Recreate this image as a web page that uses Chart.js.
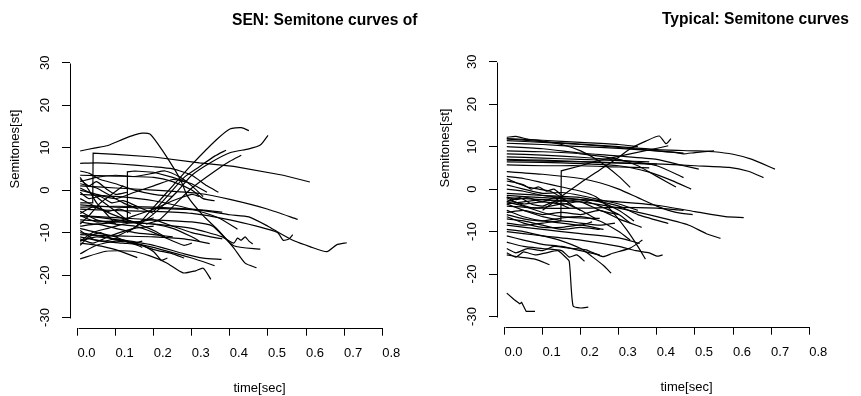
<!DOCTYPE html>
<html>
<head>
<meta charset="utf-8">
<script src="https://cdn.jsdelivr.net/npm/chart.js@4.4.1/dist/chart.umd.min.js"></script>
<style>
html, body { margin: 0; padding: 0; background: #fff; overflow: hidden; }
#wrap { position: relative; width: 861px; height: 396px; overflow: hidden; }
.panel { position: absolute; top: 0; height: 396px; overflow: hidden; }
</style>
</head>
<body>
<div id="wrap">
  <div class="panel" style="left:0;width:427px"><canvas id="senChart" width="460" height="396"></canvas></div>
  <div class="panel" style="left:427px;width:434px;top:-1px"><canvas id="typChart" width="460" height="396"></canvas></div>
</div>
<script>
// axis ticks
const xTicks = [0, 0.1, 0.2, 0.3, 0.4, 0.5, 0.6, 0.7, 0.8];
const yTicks = [-30, -20, -10, 0, 10, 20, 30];

const senTitle = 'SEN: Semitone curves of';
const typTitle = 'Typical: Semitone curves';
const xLabel = 'time[sec]';
const yLabel = 'Semitones[st]';

// [time (sec), semitones] per utterance
const senCurves = [
  [[0.007,9.2],[0.044,9.9],[0.08,10.5],[0.12,12],[0.15,13],[0.17,13.4],[0.19,13.2],[0.21,11],[0.24,7],[0.27,2.5],[0.29,-1.6],[0.33,-6],[0.37,-9.5],[0.41,-13.6],[0.44,-17.2],[0.47,-18.3]],
  [[0.007,-3],[0.04,-3],[0.041,8.7],[0.1,8.4],[0.2,7.8],[0.32,6.4],[0.41,5.6],[0.54,3.5],[0.61,1.9]],
  [[0.007,6.3],[0.05,6.4],[0.1,6.2],[0.2,5.5],[0.25,5],[0.3,3.5],[0.34,1],[0.37,-0.5]],
  [[0.1,-11],[0.153,-8.6],[0.2,-4],[0.25,1],[0.3,6],[0.364,11.8],[0.4,14.4],[0.43,14.7],[0.45,14]],
  [[0.13,-10],[0.18,-7],[0.22,-4],[0.26,-0.5],[0.3,3.5],[0.35,6.5],[0.4,8.8],[0.45,9.7],[0.48,10.6],[0.5,12.9]],
  [[0.18,-8],[0.215,-7],[0.26,-3],[0.3,0.5],[0.364,4.7],[0.4,6.8],[0.43,8.2]],
  [[0.2,-5],[0.24,-1],[0.28,3],[0.32,5.5],[0.36,8],[0.39,9.4]],
  [[0.007,-3.5],[0.1,-4],[0.2,-4.3],[0.32,-4.7],[0.4,-5.8],[0.45,-6.3],[0.5,-8.5],[0.53,-10.1],[0.57,-12],[0.61,-13.3],[0.655,-14.5],[0.68,-12.9],[0.707,-12.4]],
  [[0.007,-4.5],[0.1,-4.8],[0.2,-5],[0.3,-5.5],[0.4,-7],[0.47,-8.5],[0.525,-10],[0.54,-11.8],[0.555,-11.5],[0.565,-10.5]],
  [[0.007,1],[0.1,0.5],[0.2,0],[0.32,-0.8],[0.4,-2.2],[0.5,-4.5],[0.578,-6.9]],
  [[0.007,-7],[0.1,-7.5],[0.2,-8],[0.3,-9],[0.38,-11],[0.41,-12.5],[0.42,-11.3],[0.43,-11.8],[0.44,-11],[0.45,-12],[0.46,-12.7]],
  [[0.007,-6],[0.1,-6.5],[0.2,-7],[0.3,-7.5],[0.355,-8.5],[0.41,-13.1],[0.48,-13.9]],
  [[0.007,-1],[0.1,-1.5],[0.2,-2.5],[0.3,-4.5],[0.37,-6.5],[0.42,-9.2]],
  [[0.007,-16.2],[0.075,-14.4],[0.145,-14.4],[0.19,-15.5],[0.233,-17.1],[0.277,-19.5],[0.31,-19],[0.33,-18.4],[0.35,-21]],
  [[0.007,-12],[0.05,-11],[0.1,-11.5],[0.2,-13],[0.28,-15],[0.33,-16],[0.378,-16.3]],
  [[0.007,-10],[0.07,-11],[0.15,-12.5],[0.22,-14],[0.3,-16],[0.36,-17.8]],
  [[0.007,-11],[0.06,-12],[0.12,-12.5],[0.17,-13],[0.2,-14.5],[0.22,-16.5],[0.236,-16]],
  [[0.007,-12.5],[0.05,-13],[0.1,-14],[0.157,-15.9]],
  [[0.007,-10.5],[0.1,-10.8],[0.2,-11],[0.28,-11.5],[0.347,-12.6]],
  [[0.007,-6],[0.06,-6.5],[0.13,-7.3],[0.131,4.3],[0.15,4.5],[0.2,4.2],[0.25,3],[0.3,1.5],[0.34,-0.5]],
  [[0.007,-4],[0.1,-3.8],[0.2,-4],[0.3,-4.5],[0.38,-5.2]],
  [[0.007,2],[0.05,3],[0.1,3.5],[0.15,3.2],[0.2,4],[0.23,4.5],[0.27,3],[0.3,1],[0.33,-1.5]],
  [[0.007,4.5],[0.03,4],[0.06,2.5],[0.1,1.5],[0.15,0],[0.2,-1],[0.25,-1.5]],
  [[0.007,3],[0.03,0],[0.05,-3],[0.08,-6],[0.1,-8]],
  [[0.007,-8],[0.03,-6],[0.06,-3],[0.09,-1],[0.12,1]],
  [[0.007,0],[0.05,-1],[0.1,-2],[0.15,-0.5],[0.2,1],[0.25,2.5],[0.28,2]],
  [[0.007,-2],[0.05,-4],[0.1,-6],[0.15,-7.5],[0.2,-8],[0.25,-9],[0.3,-11],[0.32,-12]],
  [[0.007,-5],[0.05,-7],[0.1,-8],[0.15,-8.5],[0.2,-10],[0.25,-12],[0.28,-13],[0.3,-12.5]],
  [[0.007,-9],[0.05,-10],[0.1,-11],[0.14,-12.5],[0.17,-12]],
  [[0.007,-12],[0.04,-10],[0.08,-9],[0.12,-8],[0.16,-7.5],[0.2,-6.5]],
  [[0.007,-6],[0.05,-7.5],[0.1,-7.2],[0.15,-7.5],[0.2,-7],[0.25,-8.5],[0.3,-10],[0.35,-11],[0.38,-11.5]],
  [[0.007,1.5],[0.05,0.5],[0.08,-1],[0.12,-3],[0.16,-4.5]],
  [[0.007,-11.5],[0.04,-12.5],[0.08,-11],[0.11,-10],[0.15,-9],[0.2,-8.5]],
  [[0.007,3.5],[0.1,3.3],[0.2,3],[0.25,2],[0.3,0],[0.33,-2],[0.36,-2.5]],
  [[0.007,-15],[0.05,-13],[0.1,-12],[0.15,-12.5],[0.2,-14],[0.25,-15],[0.28,-16]],
  [[0.007,-7.5],[0.05,-8],[0.1,-7.5],[0.15,-6],[0.2,-4.5],[0.25,-2.5],[0.3,-1],[0.32,-1.5]],
  [[0.007,-0.5],[0.03,-2],[0.06,-1.5],[0.09,-3],[0.12,-2.5],[0.16,-4],[0.2,-5.5]],
  [[0.007,-13],[0.03,-11],[0.06,-10],[0.09,-11.5],[0.12,-12]],
  [[0.007,2.5],[0.03,1],[0.05,2],[0.08,0],[0.1,-1],[0.13,-0.5]],
  [[0.007,-8.5],[0.05,-8],[0.1,-9],[0.15,-10],[0.2,-10.5],[0.25,-11]],
  [[0.007,-5.5],[0.04,-4],[0.08,-5],[0.11,-4.5],[0.14,-5.5]],
  [[0.007,0.5],[0.04,-1],[0.07,-3],[0.1,-5],[0.13,-7],[0.16,-8],[0.2,-9.5],[0.23,-11]],
  [[0.007,-9.5],[0.04,-11.5],[0.07,-12],[0.1,-11.5],[0.13,-12],[0.17,-13.5]]
];

const typicalCurves = [
  [[0.006,11.8],[0.05,11.5],[0.1,11.2],[0.2,10.6],[0.3,10],[0.4,9.3],[0.5,9],[0.55,8.8],[0.6,8.2],[0.65,7],[0.71,4.7]],
  [[0.006,7],[0.1,6.8],[0.2,6.5],[0.3,6.2],[0.415,5.9],[0.5,5.5],[0.59,5.1],[0.64,4.2],[0.68,2.7]],
  [[0.006,12.2],[0.03,12.4],[0.06,11.8],[0.1,11.3],[0.15,10.5],[0.2,9],[0.25,6.5],[0.3,3],[0.33,0.4]],
  [[0.006,11.4],[0.1,11],[0.2,10.5],[0.3,9.8],[0.4,9],[0.45,8.6],[0.47,8.3],[0.5,8.6],[0.55,9]],
  [[0.006,10],[0.1,9.5],[0.2,8.5],[0.3,7.8],[0.4,7],[0.47,5.5],[0.51,4.7]],
  [[0.006,8.3],[0.1,8],[0.2,7.5],[0.3,6.8],[0.4,5.5],[0.47,2.7]],
  [[0.006,6.4],[0.1,6.3],[0.2,6],[0.3,5.5],[0.38,4],[0.44,2],[0.49,0]],
  [[0.006,5.7],[0.1,5.5],[0.2,5.5],[0.3,5.2],[0.38,5]],
  [[0.006,4.1],[0.1,3.5],[0.2,2.5],[0.25,1.5],[0.3,0],[0.35,-2],[0.4,-4],[0.45,-5.5],[0.494,-6]],
  [[0.006,3],[0.05,2.5],[0.1,1.5],[0.15,0.5],[0.2,-0.5],[0.24,-1.8],[0.28,-5],[0.32,-9.5],[0.35,-13.5],[0.37,-16.5]],
  [[0.006,1.9],[0.03,1.5],[0.06,0.5],[0.09,0],[0.12,-0.5],[0.15,-2],[0.18,-4],[0.2,-5]],
  [[0.006,-3.5],[0.05,-5],[0.1,-6.5],[0.148,-7.4],[0.149,4.3],[0.2,5.5],[0.24,6.6],[0.33,8.3],[0.41,9.8],[0.43,10.2]],
  [[0.1,-5],[0.145,-2],[0.2,1.5],[0.25,4.5],[0.3,7.5],[0.33,9.5],[0.371,11.3],[0.406,12.5],[0.424,10.7],[0.437,11.9]],
  [[0.006,-1.5],[0.1,-2],[0.2,-2.5],[0.3,-3],[0.4,-3.8],[0.5,-5.3],[0.58,-6.5],[0.628,-6.7]],
  [[0.006,-2],[0.1,-2.5],[0.2,-3],[0.3,-4.5],[0.4,-6.5],[0.484,-8.5],[0.53,-10.5],[0.567,-11.6]],
  [[0.006,-10],[0.05,-10.5],[0.1,-11],[0.2,-12],[0.3,-13.5],[0.345,-14.5],[0.38,-15],[0.4,-15.8],[0.415,-15.5]],
  [[0.006,-14],[0.03,-15],[0.06,-14],[0.1,-14.5],[0.13,-13.5],[0.17,-13.9],[0.214,-14.3],[0.258,-15.9],[0.284,-15.1],[0.33,-13.9],[0.362,-12]],
  [[0.006,-15],[0.03,-16],[0.05,-14.8],[0.08,-15.5],[0.11,-15],[0.14,-14.5],[0.16,-16],[0.17,-17],[0.18,-27.5],[0.2,-28],[0.22,-27.8]],
  [[0.006,-24.5],[0.025,-26],[0.04,-27],[0.045,-26.7],[0.057,-28.8],[0.08,-28.8]],
  [[0.006,-15.5],[0.04,-16],[0.08,-16.5],[0.118,-17.8]],
  [[0.006,-12.5],[0.05,-13.5],[0.1,-14],[0.15,-14.5],[0.17,-16],[0.19,-15.5],[0.21,-17]],
  [[0.006,-9.5],[0.05,-10],[0.1,-11],[0.14,-11.9],[0.2,-14],[0.23,-15.9],[0.26,-18],[0.28,-19.8]],
  [[0.006,-8.5],[0.1,-9.5],[0.2,-10.5],[0.3,-11.5],[0.355,-12.8]],
  [[0.006,-5],[0.05,-6.5],[0.1,-7.5],[0.15,-8],[0.2,-8.5],[0.23,-7.7]],
  [[0.006,-3],[0.05,-4],[0.1,-5.5],[0.15,-6.5],[0.2,-6.8],[0.25,-6.9]],
  [[0.006,-1],[0.1,-1.5],[0.2,-2],[0.3,-4],[0.35,-6],[0.43,-8.1]],
  [[0.006,-4],[0.1,-4.5],[0.2,-4.5],[0.3,-4.3],[0.4,-4.5],[0.47,-5]],
  [[0.006,-6],[0.05,-7],[0.1,-7.5],[0.15,-6.8],[0.2,-6.5],[0.25,-7.5],[0.3,-10],[0.33,-12]],
  [[0.006,-7],[0.05,-7.5],[0.1,-8.5],[0.15,-9.5],[0.2,-9],[0.25,-9.5]],
  [[0.006,2.5],[0.03,1.5],[0.05,1],[0.07,0],[0.09,0.5],[0.11,-0.5],[0.13,0],[0.15,-1.5]],
  [[0.006,0],[0.05,-0.5],[0.1,-1.5],[0.15,-2],[0.2,-2.5],[0.25,-4],[0.3,-6],[0.33,-8]],
  [[0.006,-2.5],[0.05,-3.5],[0.1,-3],[0.15,-3.5],[0.2,-3],[0.25,-5],[0.3,-6]],
  [[0.006,-6.5],[0.05,-8],[0.1,-9],[0.15,-9],[0.2,-8.5],[0.26,-9.5]],
  [[0.006,-11],[0.05,-12],[0.1,-13],[0.15,-13.5],[0.2,-14.5],[0.25,-15.5]],
  [[0.006,9],[0.1,8.8],[0.2,8.3],[0.3,7],[0.35,5.5],[0.4,3],[0.45,0.5]],
  [[0.006,7.6],[0.1,7.3],[0.2,7],[0.3,6.7],[0.38,6.4]],
  [[0.006,10.8],[0.1,10.5],[0.2,10],[0.3,9.6],[0.4,9],[0.47,8.5]],
  [[0.006,-2],[0.04,-3.5],[0.08,-4.5],[0.12,-4],[0.16,-3.5],[0.2,-5],[0.24,-7]],
  [[0.006,-3.5],[0.05,-3],[0.1,-2.5],[0.15,-3],[0.2,-2.5],[0.25,-3],[0.3,-5],[0.34,-7.5]],
  [[0.006,-8],[0.05,-8.5],[0.1,-8],[0.15,-7.5],[0.2,-8],[0.25,-8.5],[0.29,-8]],
  [[0.006,-5.5],[0.05,-5],[0.1,-6],[0.15,-5.5],[0.2,-6],[0.25,-5],[0.3,-7],[0.36,-9]],
  [[0.006,11.9],[0.1,11.5],[0.2,11],[0.3,10.5],[0.35,10]],
  [[0.006,6.8],[0.1,6.6],[0.2,6.4],[0.3,6.1],[0.4,5.9]],
  [[0.006,-1.8],[0.03,-2.5],[0.06,-2],[0.1,-3],[0.13,-2],[0.16,-2.5]],
  [[0.006,-3],[0.04,-2],[0.07,-3.5],[0.1,-4],[0.13,-3],[0.17,-4.5]],
  [[0.006,1],[0.05,0],[0.1,-1],[0.15,-0.8],[0.2,-1.5],[0.25,-2.5],[0.3,-3.5],[0.35,-5]]
];

Chart.defaults.font.family = '"Liberation Sans", Arial, Helvetica, sans-serif';
Chart.defaults.color = '#000';

// R-style detached axis lines, main title and rotated y label
const rDecor = {
  id: 'rDecor',
  afterDraw(chart, args, opts) {
    const { ctx, chartArea, scales: { x, y } } = chart;
    ctx.save();
    ctx.strokeStyle = '#000';
    ctx.lineWidth = 1;
    ctx.beginPath();
    const ax = Math.round(chartArea.left) + 0.5;
    ctx.moveTo(ax, Math.round(y.getPixelForValue(yTicks[yTicks.length - 1])) + 0.5);
    ctx.lineTo(ax, Math.round(y.getPixelForValue(yTicks[0])) + 0.5);
    const ay = Math.round(chartArea.bottom) + 0.5;
    ctx.moveTo(Math.round(x.getPixelForValue(xTicks[0])) + 0.5, ay);
    ctx.lineTo(Math.round(x.getPixelForValue(xTicks[xTicks.length - 1])) + 0.5, ay);
    ctx.stroke();

    ctx.fillStyle = '#000';
    ctx.font = 'bold 15.6px "Liberation Sans", Arial, sans-serif';
    ctx.textBaseline = 'middle';
    ctx.textAlign = 'left';
    ctx.fillText(opts.title, opts.titleX, 21);

    ctx.font = '13px "Liberation Sans", Arial, sans-serif';
    ctx.translate(opts.ylabX, 149);
    ctx.rotate(-Math.PI / 2);
    ctx.textAlign = 'center';
    ctx.fillText(yLabel, 0, 0);
    ctx.restore();
  }
};

// straight segments where a curve jumps, smoothed otherwise
function hasJump(c) {
  return c.some((p, i) => i > 0 && p[0] - c[i - 1][0] < 0.005);
}

function makePanel(id, curves, title, titleX, ylabX) {
  new Chart(document.getElementById(id), {
    type: 'line',
    data: {
      datasets: curves.map(c => ({
        data: c.map(p => ({ x: p[0], y: p[1] })),
        borderColor: '#000',
        borderWidth: 1.2,
        pointRadius: 0,
        tension: hasJump(c) ? 0 : 0.2,
        fill: false
      }))
    },
    options: {
      responsive: false,
      animation: false,
      devicePixelRatio: 1,
      events: [],
      layout: { padding: { top: 52.5, right: 11, bottom: 0, left: 0 } },
      plugins: {
        legend: { display: false },
        tooltip: { enabled: false },
        rDecor: { title: title, titleX: titleX, ylabX: ylabX }
      },
      scales: {
        x: {
          type: 'linear',
          min: -0.0197,
          max: 0.9753,
          afterBuildTicks: s => { s.ticks = xTicks.map(v => ({ value: v })); },
          afterFit: s => { s.height = 68.3; },
          border: { display: false },
          grid: { drawOnChartArea: false, drawTicks: true, tickLength: 8, color: '#000', lineWidth: 1 },
          ticks: {
            autoSkip: false,
            maxRotation: 0,
            padding: 10,
            labelOffset: 9,
            font: { size: 13 },
            callback: v => v.toFixed(1)
          },
          title: { display: true, text: xLabel, font: { size: 13 }, padding: { top: 0, bottom: 0 } }
        },
        y: {
          type: 'linear',
          min: -32.4,
          max: 32.4,
          afterBuildTicks: s => { s.ticks = yTicks.map(v => ({ value: v })); },
          afterFit: s => { s.width = 70; },
          border: { display: false },
          grid: { drawOnChartArea: false, drawTicks: true, tickLength: 8, color: '#000', lineWidth: 1 },
          ticks: {
            minRotation: 90,
            maxRotation: 90,
            crossAlign: 'center',
            padding: 7.6,
            font: { size: 13 }
          }
        }
      }
    },
    plugins: [rDecor]
  });
}

makePanel('senChart', senCurves, senTitle, 232, 15);
makePanel('typChart', typicalCurves, typTitle, 235, 18);
</script>
</body>
</html>
